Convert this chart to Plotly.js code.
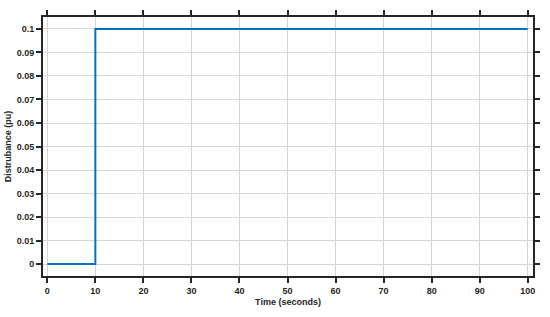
<!DOCTYPE html>
<html>
<head>
<meta charset="utf-8">
<script src="https://cdn.plot.ly/plotly-3.0.1.min.js"></script>
<style>
  body { margin: 0; background: #fff; }
  #chart { width: 550px; height: 317px; }
</style>
</head>
<body>
<div id="chart"></div>
<script>
// Step disturbance data
const time = [0, 10, 100];
const disturbance = [0, 0.1, 0.1];
const xTicks = [0, 10, 20, 30, 40, 50, 60, 70, 80, 90, 100];
const yTicks = [0, 0.01, 0.02, 0.03, 0.04, 0.05, 0.06, 0.07, 0.08, 0.09, 0.1];

const trace = {
    x: time,
    y: disturbance,
    type: 'scatter',
    mode: 'lines',
    line: { color: '#0072BD', width: 2, shape: 'hv' },
    hoverinfo: 'skip'
};

const labelFont = { family: 'Liberation Sans, Arial, sans-serif', size: 9, color: '#262626', weight: 'bold' };

const axisStyle = {
    automargin: false,
    showline: true,
    linecolor: '#262626',
    linewidth: 2,
    mirror: 'ticks',
    ticks: 'outside',
    ticklen: 5,
    tickwidth: 2,
    tickcolor: '#262626',
    showgrid: true,
    gridcolor: '#d6d6d6',
    gridwidth: 1,
    zeroline: false,
    tickfont: labelFont
};

const layout = {
    width: 550,
    height: 317,
    margin: { l: 43, r: 17, t: 17, b: 41 },
    paper_bgcolor: '#fff',
    plot_bgcolor: '#fff',
    showlegend: false,
    xaxis: Object.assign({}, axisStyle, {
        range: [-0.9, 101.1],
        tickvals: xTicks,
        ticktext: xTicks.map(String),
        title: { text: 'Time (seconds)', standoff: 4, font: labelFont }
    }),
    yaxis: Object.assign({}, axisStyle, {
        range: [-0.0051, 0.1051],
        tickvals: yTicks,
        ticktext: yTicks.map(String),
        title: { text: 'Distrubance (pu)', standoff: 4, font: labelFont }
    })
};

Plotly.newPlot('chart', [trace], layout, { displayModeBar: false, staticPlot: true });
</script>
</body>
</html>
